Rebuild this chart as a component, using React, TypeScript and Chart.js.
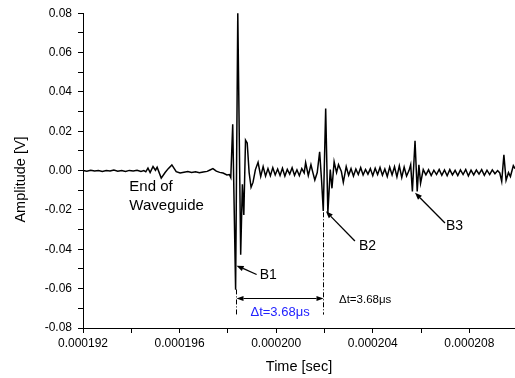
import React, { useEffect, useRef } from "react";
import { Chart, registerables } from "chart.js";

Chart.register(...registerables);

const FONT = '"Liberation Sans", Arial, Helvetica, sans-serif';

// Time in microseconds (axis labels are shown in seconds)
const timeUs = [
  192.0, 192.16, 192.32, 192.48, 192.64, 192.8, 192.96, 193.12, 193.28, 193.44,
  193.6, 193.76, 193.92, 194.08, 194.24, 194.4, 194.52,
  194.6, 194.69, 194.78, 194.9, 195.0, 195.07, 195.24, 195.4, 195.53, 195.68, 195.86, 196.02,
  196.18, 196.34, 196.5, 196.66, 196.82, 196.98, 197.14, 197.26, 197.38, 197.52, 197.66, 197.8,
  197.96, 198.06, 198.12, 198.2, 198.32, 198.41, 198.53, 198.6, 198.66, 198.73, 198.8, 198.88,
  198.96, 199.04, 199.14, 199.25,
  199.36, 199.46, 199.56, 199.66, 199.76, 199.86, 199.96, 200.06, 200.16, 200.26, 200.36, 200.46,
  200.56, 200.66, 200.76, 200.86, 200.96, 201.06, 201.16, 201.22, 201.33, 201.44, 201.52, 201.6,
  201.7, 201.8, 201.88, 201.95, 202.05, 202.14, 202.24, 202.31, 202.4, 202.5, 202.58, 202.7,
  202.78, 202.9,
  203.0, 203.1, 203.2, 203.3, 203.4, 203.5, 203.6, 203.7, 203.8, 203.9, 204.0, 204.1, 204.2,
  204.3, 204.4, 204.5, 204.6, 204.7, 204.8, 204.9, 205.0, 205.1, 205.2, 205.3, 205.4, 205.5,
  205.57, 205.64, 205.75, 205.84, 205.91, 205.98, 206.09,
  206.2, 206.31, 206.42, 206.53, 206.64, 206.75, 206.86, 206.97, 207.08, 207.19, 207.3, 207.41,
  207.52, 207.63, 207.74, 207.85, 207.96, 208.07, 208.18, 208.29, 208.4, 208.51, 208.62, 208.73,
  208.84, 208.95, 209.06, 209.17, 209.26,
  209.34, 209.43, 209.52, 209.62, 209.7, 209.82, 209.89,
];

const amplitudeV = [
  0.0, -0.0003, 0.0002, -0.0002, 0.0001, -0.0004, 0.0001, -0.0002, 0.0003, -0.0003,
  0.0, -0.0005, 0.0001, -0.0002, 0.0002, -0.0004, 0.0,
  -0.0006, 0.0013, -0.001, 0.0021, 0.0002, 0.0017, -0.0038, -0.001, 0.001, 0.0029, -0.0005, -0.0012,
  -0.0008, -0.0005, -0.001, -0.0006, -0.0011, -0.0007, -0.0004, 0.0003, 0.001, -0.0003, -0.0009, -0.0012,
  -0.0022, -0.002, -0.0036, 0.0235, -0.0605, 0.0805, -0.0428, -0.007, -0.0225, 0.0155, 0.014, -0.001,
  -0.0085, -0.006, 0.0005, 0.0042,
  -0.003, 0.002, -0.0028, 0.001, -0.0026, 0.0015, -0.0022, 0.0008, -0.0025, 0.0012, -0.0028, 0.0006,
  -0.0018, 0.0014, -0.0024, 0.0004, -0.0026, 0.001, -0.0012, 0.004, -0.0025, 0.003, -0.001, -0.0048,
  -0.001, 0.0095, -0.005, -0.0205, 0.0315, -0.0215, 0.0005, -0.009, 0.0045, -0.001, 0.003, -0.0005,
  -0.006, 0.002,
  -0.0024, 0.001, -0.0028, 0.0008, -0.002, 0.0015, -0.0022, 0.0006, -0.0018, 0.001, -0.0026, 0.0012, -0.002,
  0.0016, -0.0024, 0.0008, -0.003, 0.0018, -0.0022, 0.002, -0.0032, 0.0024, -0.0035, 0.0018, -0.0028, 0.0,
  0.003, -0.0106, 0.0152, -0.0106, 0.003, -0.0064, 0.0005,
  -0.0022, 0.0004, -0.0025, 0.0002, -0.002, 0.0006, -0.0024, 0.0003, -0.0026, 0.0005, -0.0022, 0.0001,
  -0.0025, 0.0004, -0.002, 0.0006, -0.0027, 0.0002, -0.0022, 0.0003, -0.0018, 0.0005, -0.0024, 0.0002,
  -0.002, 0.0004, -0.0016, 0.0, -0.0012,
  -0.0055, 0.008, -0.005, -0.001, -0.003, 0.0025, 0.001,
];

// Axis ranges / ticks
const xMinUs = 192;
const xMaxUs = 209.89;
const xMajorTicksUs = [192, 196, 200, 204, 208];
const yMin = -0.08;
const yMax = 0.08;
const yMajorTicks = [-0.08, -0.06, -0.04, -0.02, 0.0, 0.02, 0.04, 0.06, 0.08];

// Annotations (data coordinates: µs, V)
const endLabelLines = ["End of", "Waveguide"];
const endLabelPos = { t: 193.92, v: [-0.0083, -0.0179] };
const echoLabels = ["B1", "B2", "B3"];
const echoArrowHeads = [
  { t: 198.36, v: -0.0483 },
  { t: 202.06, v: -0.0207 },
  { t: 205.75, v: -0.0113 },
];
const echoArrowTails = [
  { t: 199.19, v: -0.0528 },
  { t: 203.26, v: -0.0358 },
  { t: 206.99, v: -0.0266 },
];
const echoLabelPos = [
  { t: 199.32, v: -0.053 },
  { t: 203.43, v: -0.0382 },
  { t: 207.03, v: -0.0283 },
];
const markerTimes = [198.32, 201.95];
const markerTops = [-0.0604, -0.0212];
const markerBottom = -0.0732;
const spanArrowV = -0.065;
const deltaText = "\u0394t=3.68\u03bcs";
const deltaBluePos = { t: 200.16, v: -0.0722 };
const deltaBlackPos = { t: 202.6, v: -0.0657 };

function arrow(ctx: CanvasRenderingContext2D, x1: number, y1: number, x2: number, y2: number, len = 7, half = 2.8) {
  const a = Math.atan2(y2 - y1, x2 - x1);
  const bx = x2 - len * Math.cos(a);
  const by = y2 - len * Math.sin(a);
  ctx.beginPath();
  ctx.moveTo(x1, y1);
  ctx.lineTo(bx, by);
  ctx.stroke();
  ctx.beginPath();
  ctx.moveTo(x2, y2);
  ctx.lineTo(bx + half * Math.sin(a), by - half * Math.cos(a));
  ctx.lineTo(bx - half * Math.sin(a), by + half * Math.cos(a));
  ctx.closePath();
  ctx.fill();
}

const annotationPlugin = {
  id: "waveAnnotations",
  afterDraw(chart: any) {
    const { ctx, scales } = chart;
    const xs = scales.x;
    const ys = scales.y;
    const px = (t: number) => xs.getPixelForValue(t);
    const py = (v: number) => ys.getPixelForValue(v);
    ctx.save();
    ctx.fillStyle = "#000";
    ctx.strokeStyle = "#000";

    // axis titles
    ctx.font = `14.5px ${FONT}`;
    ctx.textAlign = "center";
    ctx.textBaseline = "middle";
    ctx.fillText("Time [sec]", (chart.chartArea.left + chart.chartArea.right) / 2, 367);
    ctx.save();
    ctx.translate(21, 179.5);
    ctx.rotate(-Math.PI / 2);
    ctx.fillText("Amplitude [V]", 0, 0);
    ctx.restore();

    // End of waveguide
    ctx.font = `15px ${FONT}`;
    ctx.textAlign = "left";
    endLabelLines.forEach((s, i) => ctx.fillText(s, px(endLabelPos.t), py(endLabelPos.v[i])));

    // Echo labels with arrows
    ctx.lineWidth = 1.3;
    ctx.font = `14px ${FONT}`;
    echoLabels.forEach((s, i) => {
      arrow(ctx, px(echoArrowTails[i].t), py(echoArrowTails[i].v), px(echoArrowHeads[i].t), py(echoArrowHeads[i].v));
      ctx.fillText(s, px(echoLabelPos[i].t), py(echoLabelPos[i].v));
    });

    // dash-dot marker lines
    ctx.lineWidth = 1;
    ctx.setLineDash([5, 2, 1, 2]);
    markerTimes.forEach((t, i) => {
      ctx.beginPath();
      ctx.moveTo(Math.round(px(t)) + 0.5, py(markerTops[i]));
      ctx.lineTo(Math.round(px(t)) + 0.5, py(markerBottom));
      ctx.stroke();
    });
    ctx.setLineDash([]);

    // double-headed span arrow
    const xa = Math.round(px(markerTimes[0])) + 0.5;
    const xb = Math.round(px(markerTimes[1])) + 0.5;
    const ya = Math.round(py(spanArrowV)) + 0.5;
    ctx.lineWidth = 1.2;
    arrow(ctx, (xa + xb) / 2, ya, xb, ya, 7, 2.5);
    arrow(ctx, (xa + xb) / 2, ya, xa, ya, 7, 2.5);

    // delta t labels
    ctx.font = `13px ${FONT}`;
    ctx.textAlign = "center";
    ctx.fillStyle = "#2222ff";
    ctx.fillText(deltaText, px(deltaBluePos.t), py(deltaBluePos.v));
    ctx.font = `11.5px ${FONT}`;
    ctx.textAlign = "left";
    ctx.fillStyle = "#000";
    ctx.fillText(deltaText, px(deltaBlackPos.t), py(deltaBlackPos.v));
    ctx.restore();
  },
};

export default function App() {
  const canvasRef = useRef<HTMLCanvasElement | null>(null);

  useEffect(() => {
    if (!canvasRef.current) return;
    const points = timeUs.map((t, i) => ({ x: t, y: amplitudeV[i] }));
    const chart = new Chart(canvasRef.current, {
      type: "line",
      data: {
        datasets: [
          {
            data: points,
            borderColor: "#000",
            borderWidth: 1.5,
            pointRadius: 0,
            tension: 0,
            fill: false,
          },
        ],
      },
      options: {
        animation: false,
        responsive: true,
        maintainAspectRatio: false,
        layout: { padding: { left: 0, right: 0, top: 12, bottom: 0 } },
        plugins: { legend: { display: false }, tooltip: { enabled: false }, title: { display: false } },
        scales: {
          x: {
            type: "linear",
            min: xMinUs,
            max: xMaxUs,
            border: { display: true, color: "#000", width: 1 },
            grid: { drawOnChartArea: false, drawTicks: true, tickLength: 5, color: "#000" },
            ticks: {
              stepSize: 2,
              includeBounds: false,
              autoSkip: false,
              maxRotation: 0,
              padding: 3,
              color: "#000",
              font: { family: FONT, size: 12 },
              callback: (v: any) => {
                const n = Math.round(Number(v) * 100) / 100;
                return xMajorTicksUs.some((m) => Math.abs(m - n) < 1e-6) ? (n / 1e6).toFixed(6) : "";
              },
            },
            afterFit: (s: any) => {
              s.height = 50;
            },
          },
          y: {
            type: "linear",
            min: yMin,
            max: yMax,
            border: { display: true, color: "#000", width: 1 },
            grid: { drawOnChartArea: false, drawTicks: true, tickLength: 5, color: "#000" },
            ticks: {
              stepSize: 0.01,
              includeBounds: false,
              autoSkip: false,
              padding: 6,
              color: "#000",
              font: { family: FONT, size: 12 },
              callback: (v: any) => {
                const n = Math.round(Number(v) * 100) / 100;
                return yMajorTicks.some((m) => Math.abs(m - n) < 1e-6) ? (n === 0 ? 0 : n).toFixed(2) : "";
              },
            },
            afterFit: (s: any) => {
              s.width = 83;
            },
          },
        },
      },
      plugins: [annotationPlugin],
    });
    return () => chart.destroy();
  }, []);

  return (
    <div style={{ position: "fixed", left: 0, top: 0, width: 515, height: 378, background: "#fff" }}>
      <canvas ref={canvasRef} />
    </div>
  );
}
